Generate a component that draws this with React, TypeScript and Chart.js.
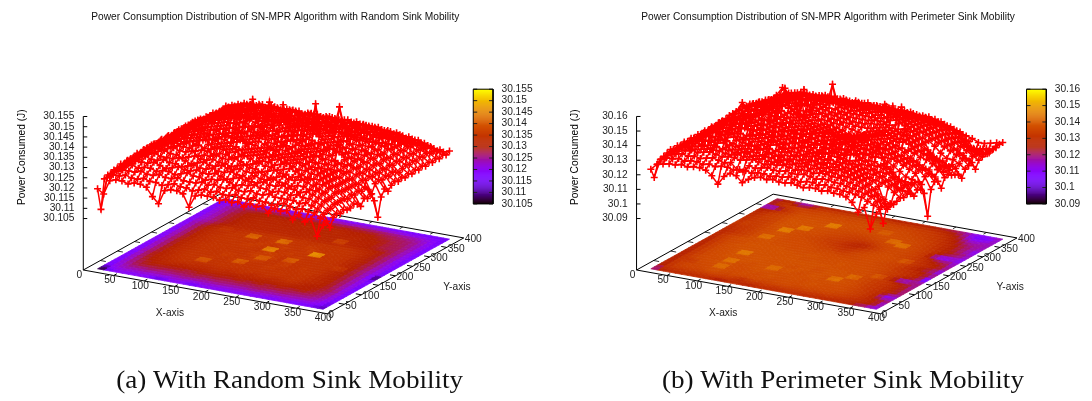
import React, { useEffect, useRef } from "react";
import { Chart, registerables } from "chart.js";

Chart.register(...registerables);

// Values are thousandths of a joule above 30.1 J, one row per Y grid line, one column per X grid line.
const gridCoords = [15,25,35,45,55,65,75,85,95,105,115,125,135,145,155,165,175,185,195,205,215,225,235,245,255,265,275,285,295,305,315,325,335,345,355,365,375,385];

const randomRows = [
[19,17,24,25,25,24,25,25,24,20,17,24,25,25,24,18,24,25,25,25,24,25,24,25,23,25,24,25,22,25,24,25,21,24,21,23,15,21],
[8,24,26,26,27,26,26,27,26,26,25,26,27,26,26,25,26,27,26,27,26,26,27,26,26,27,26,26,25,26,27,26,25,26,25,25,23,22],
[22,25,27,28,28,28,29,28,28,29,28,28,29,28,28,28,29,28,29,28,28,29,28,28,29,28,28,29,28,28,28,28,27,28,27,26,24,18],
[23,26,28,29,30,29,30,30,29,30,30,29,30,31,30,30,29,30,30,31,30,29,30,30,31,30,30,29,30,30,29,30,29,29,28,27,25,22],
[22,26,28,30,31,31,31,32,31,30,31,32,31,31,32,31,31,32,31,30,31,32,31,31,31,32,31,31,32,31,31,30,31,30,29,28,25,23],
[23,27,29,31,32,33,32,32,33,32,32,31,32,33,32,32,33,32,32,33,32,32,31,33,32,32,33,32,32,31,32,32,31,31,30,28,26,22],
[22,26,29,31,32,33,34,33,33,33,34,33,32,33,34,33,33,34,33,33,34,33,33,34,33,32,33,34,33,33,34,33,32,31,30,28,26,23],
[23,27,29,31,33,33,34,35,34,34,33,34,35,34,34,35,34,34,33,34,35,34,34,33,34,35,34,34,33,34,33,34,32,32,31,29,26,22],
[22,27,30,32,33,34,34,35,36,35,35,36,34,35,35,36,35,35,36,35,34,35,36,35,35,34,35,36,35,34,33,33,33,32,31,29,26,22],
[23,26,29,32,33,34,35,35,36,36,36,35,36,36,35,36,36,35,36,37,36,35,36,36,35,36,37,36,35,35,34,34,33,32,30,28,25,23],
[22,27,30,32,34,34,35,36,36,37,36,37,36,36,37,37,36,37,36,36,37,36,37,36,37,36,36,37,36,35,35,34,33,32,30,28,26,22],
[23,27,30,32,33,34,35,36,36,37,36,44,37,36,37,36,37,37,36,37,36,37,36,37,37,36,37,36,36,35,35,34,33,32,30,28,25,20],
[22,27,29,31,33,35,35,36,37,36,37,38,36,37,36,37,37,36,37,36,37,37,36,37,36,37,36,37,36,36,34,34,33,31,30,28,26,23],
[23,26,30,32,34,34,36,36,36,37,36,37,37,36,37,38,44,37,36,37,36,38,37,36,37,36,37,37,36,35,35,33,33,32,30,28,25,22],
[22,28,29,31,33,35,35,36,37,36,37,36,37,37,36,37,38,37,37,36,37,36,37,37,36,37,37,36,37,36,34,34,32,32,29,27,26,23],
[23,27,30,32,33,34,36,35,36,37,37,36,37,38,37,37,36,37,38,37,36,37,38,37,36,37,37,36,36,35,35,34,33,31,30,28,24,19],
[24,27,29,31,34,35,35,36,37,36,36,37,37,36,37,36,37,38,44,37,37,36,37,37,36,37,36,37,36,36,34,33,33,32,30,27,21,10],
[23,28,30,32,33,34,36,36,36,37,37,36,37,37,36,37,38,37,37,38,37,36,45,37,37,36,37,36,37,35,41,34,32,31,29,28,25,19],
[22,27,29,32,34,35,35,36,37,36,37,37,36,37,37,36,37,37,38,37,36,37,38,37,36,37,36,36,37,36,35,34,33,31,30,27,26,22],
[23,28,30,31,33,34,36,35,36,37,36,37,37,36,37,37,36,38,37,37,38,36,37,37,36,37,37,36,36,35,35,33,33,32,29,28,25,20],
[24,27,29,32,33,35,35,36,37,36,37,36,37,38,37,36,37,52,37,36,37,38,36,37,37,36,37,36,37,36,34,34,32,31,30,27,26,22],
[23,27,30,31,34,34,36,36,36,37,37,37,36,37,37,38,36,37,37,38,36,37,37,37,54,37,36,37,36,35,35,33,33,32,30,28,25,23],
[22,28,29,32,33,35,35,36,37,36,36,37,37,36,37,37,37,36,38,37,37,36,37,38,37,36,37,36,37,36,34,34,33,31,29,27,26,22],
[24,27,30,31,34,34,36,35,36,37,37,36,38,37,36,37,37,38,37,36,37,37,38,37,36,37,37,36,36,35,35,33,32,32,30,28,25,23],
[23,28,29,32,33,35,35,36,36,36,37,37,47,37,37,36,38,47,37,37,36,37,37,36,37,36,36,37,36,36,34,34,33,31,30,27,24,22],
[24,27,30,31,33,34,35,39,35,36,36,36,37,36,37,37,37,38,36,37,37,36,37,37,36,37,37,36,36,35,35,33,32,31,29,28,25,23],
[23,28,29,30,32,33,34,35,35,35,36,36,36,36,36,36,36,36,36,36,36,36,36,36,36,36,36,36,35,35,34,34,33,32,30,27,26,22],
[24,27,28,30,31,33,33,34,34,35,34,34,35,34,35,35,34,35,34,35,35,34,35,34,35,35,34,34,34,34,33,33,32,31,29,28,25,23],
[23,27,28,29,31,32,33,33,35,34,35,35,34,35,34,35,35,34,35,35,34,35,35,34,46,34,35,34,33,33,32,32,32,31,30,27,26,22],
[24,26,28,30,32,33,33,34,34,35,34,35,35,34,35,34,34,35,34,34,35,34,34,35,35,34,34,34,34,33,33,31,31,31,29,28,25,23],
[23,27,28,29,31,32,33,34,34,34,35,34,34,35,34,35,34,34,35,34,34,35,34,34,34,35,34,33,34,33,32,32,32,31,30,27,26,22],
[24,26,28,30,32,33,33,33,34,35,34,34,35,34,34,34,35,34,34,35,34,34,35,34,34,34,33,34,33,33,33,31,31,30,29,28,25,23],
[23,27,28,29,31,32,33,34,33,34,34,35,34,34,35,34,34,35,34,34,34,35,34,34,33,34,34,33,33,32,32,31,32,30,30,27,26,22],
[24,26,28,30,31,32,33,33,34,33,34,34,33,34,34,33,34,34,33,34,34,33,34,33,34,33,33,33,32,32,31,31,30,30,29,27,25,23],
[23,26,29,30,31,32,32,32,33,33,33,32,33,33,33,32,33,33,32,33,32,32,33,32,32,32,32,32,31,31,31,30,30,29,28,27,25,22],
[22,25,27,28,29,30,30,31,30,31,31,30,31,31,30,31,30,31,31,30,31,30,31,30,31,30,30,30,30,29,29,28,28,28,27,26,24,23],
[21,24,25,25,26,27,26,27,27,26,27,27,26,27,27,26,27,27,26,27,27,26,27,27,26,27,26,26,26,26,25,25,25,25,25,24,24,22],
[21,22,23,24,23,24,25,24,24,25,24,24,25,24,25,24,24,25,24,24,25,24,24,25,24,24,24,24,23,24,23,23,23,22,23,22,22,23],
];

const perimeterRows = [
[23,27,28,29,29,30,29,30,30,29,26,21,27,30,29,25,28,30,31,30,31,30,30,31,30,29,30,30,29,30,29,29,28,25,19,23,9,20],
[16,29,31,31,32,31,32,32,31,32,31,32,32,31,32,32,31,32,32,31,32,32,33,32,31,32,32,31,32,31,31,30,30,29,28,26,24,22],
[24,30,33,33,34,33,34,33,34,35,34,33,34,30,29,34,33,34,35,34,34,35,34,34,35,34,33,34,34,33,33,32,31,30,29,28,25,11],
[26,31,34,35,35,36,35,36,37,36,35,36,36,35,36,37,36,35,36,36,37,36,35,36,36,35,36,36,35,35,34,33,32,31,29,27,25,21],
[25,32,33,35,36,35,36,37,37,37,36,36,37,36,37,36,37,36,36,37,36,37,36,37,36,37,36,36,36,35,35,34,33,31,29,27,24,22],
[26,31,34,36,35,36,37,36,38,37,37,36,37,37,36,37,37,37,36,37,37,36,37,37,37,36,37,36,37,36,35,34,33,31,28,17,16,20],
[25,32,34,30,36,36,36,37,46,37,36,37,36,37,37,36,38,37,37,36,37,37,36,38,37,37,36,37,36,36,35,34,33,32,29,18,18,21],
[26,31,33,35,36,37,37,37,38,37,37,36,37,37,38,37,37,36,37,37,38,36,37,37,36,37,37,37,36,36,35,34,32,31,30,28,25,22],
[25,32,34,36,36,36,37,38,38,37,36,37,38,37,37,38,37,37,38,36,37,37,38,37,37,38,37,37,37,36,35,33,33,32,30,28,26,21],
[26,31,34,35,37,37,36,37,47,38,37,37,36,38,37,46,37,38,37,37,36,38,37,37,36,48,38,37,36,36,34,34,33,31,29,27,25,22],
[25,32,33,36,36,36,38,37,38,37,38,37,38,37,37,38,37,37,38,37,37,37,37,38,37,37,37,36,37,35,35,33,32,32,30,28,26,21],
[26,31,34,35,37,37,37,38,37,37,37,38,37,37,38,37,38,36,37,38,37,36,37,37,38,37,38,46,36,36,34,34,33,31,29,27,25,18],
[25,32,34,36,36,37,37,37,38,37,38,37,38,37,37,37,37,38,37,37,37,36,38,37,37,37,37,37,36,35,35,33,33,30,26,25,25,21],
[26,31,33,35,37,36,38,37,50,37,37,38,37,38,37,38,37,37,38,37,38,37,37,37,38,37,36,37,37,36,45,33,30,18,17,17,24,20],
[26,32,34,36,36,37,37,38,38,38,37,37,37,37,38,37,38,37,37,37,37,38,37,37,36,37,37,36,36,35,35,33,31,28,25,24,23,16],
[27,31,34,35,37,37,37,37,37,37,38,37,38,37,37,37,37,36,38,37,37,36,37,38,37,37,37,37,36,36,34,34,33,31,29,27,20,-1],
[26,32,33,36,36,37,38,37,38,37,37,37,37,38,37,38,37,37,37,36,37,37,37,37,36,37,36,36,36,35,35,33,32,31,30,28,24,16],
[27,31,34,36,36,36,37,38,37,38,37,38,37,37,37,36,37,38,37,37,36,37,36,37,37,36,37,36,36,36,34,33,32,31,29,27,25,20],
[28,32,34,35,37,37,37,37,37,37,37,37,37,36,37,37,36,37,36,36,37,36,37,36,36,37,36,36,35,35,34,32,31,30,28,26,23,19],
[28,32,34,36,36,37,37,37,38,37,37,37,36,37,36,37,36,36,36,37,35,36,35,36,36,37,36,36,36,35,35,33,30,28,25,24,20,13],
[29,30,32,33,34,36,38,37,37,37,36,37,37,36,37,36,36,35,36,34,34,35,36,36,37,36,37,36,36,35,34,33,32,30,29,27,24,19],
[29,31,32,34,35,35,37,47,38,37,37,36,36,37,36,36,35,35,34,33,33,34,35,36,36,37,36,37,36,36,46,33,32,31,29,28,25,20],
[29,31,32,34,34,36,37,37,37,37,37,36,37,36,36,35,35,34,33,32,31,33,34,35,36,36,37,36,36,35,34,33,31,29,27,26,24,18],
[30,32,33,33,34,36,37,37,38,37,36,37,36,36,35,35,34,33,32,31,30,31,33,34,35,36,36,36,35,35,34,33,31,29,26,25,22,17],
[30,33,33,34,35,35,37,37,38,37,37,36,36,35,36,34,34,33,32,30,29,28,30,33,35,36,36,36,36,35,34,32,29,25,19,20,22,16],
[30,37,33,34,34,36,37,37,52,37,37,36,37,36,35,35,34,34,33,32,31,30,33,34,35,36,36,36,35,35,34,32,22,15,14,16,18,12],
[30,32,34,34,35,36,37,38,37,37,37,37,36,37,36,35,35,34,34,33,33,33,34,35,36,36,36,37,36,35,33,32,29,25,22,22,20,17],
[31,32,33,34,34,36,38,37,37,38,50,37,37,36,36,36,35,35,34,34,34,35,35,36,36,37,50,36,35,35,34,32,30,28,26,24,22,18],
[30,32,34,34,35,36,37,37,38,37,38,37,37,37,36,36,36,35,35,35,35,36,36,36,48,37,36,36,35,34,33,31,30,28,26,24,21,19],
[30,31,33,35,34,36,37,38,37,37,37,38,37,37,37,36,36,36,36,36,36,36,37,36,37,36,36,36,35,34,33,31,29,27,24,21,18,13],
[29,31,33,34,35,36,37,37,37,38,37,37,37,52,37,37,36,37,36,37,36,37,36,37,36,36,36,35,35,34,32,31,29,27,25,23,20,18],
[28,29,32,34,34,35,37,37,37,37,37,37,37,38,37,37,37,36,37,36,37,43,37,36,36,36,35,35,34,33,32,30,28,26,24,22,20,19],
[26,27,28,31,33,35,36,37,36,37,37,37,36,37,37,36,37,37,36,37,36,36,36,36,36,35,35,34,33,33,31,29,27,25,23,22,21,20],
[18,14,16,28,32,34,36,36,36,36,36,36,37,36,36,37,36,36,37,36,36,36,36,36,35,35,34,34,33,32,30,28,26,22,20,20,21,19],
[24,27,29,33,34,35,35,35,35,36,36,35,36,36,35,36,36,35,36,35,36,35,35,35,35,34,34,33,32,31,29,27,24,19,18,19,20,20],
[25,29,35,32,33,34,34,34,34,35,35,34,35,34,35,34,35,34,34,35,34,34,34,34,33,33,33,32,31,29,27,25,21,15,14,14,17,20],
[24,28,30,29,17,16,18,31,32,31,32,32,32,31,32,31,31,32,32,31,31,31,31,30,30,30,29,29,28,27,25,23,19,13,12,13,17,21],
[23,25,27,26,26,27,27,27,27,28,27,28,27,28,27,27,28,27,27,27,27,27,26,27,26,26,25,25,24,24,23,21,20,18,18,19,20,21],
];

const xTicks = [0,50,100,150,200,250,300,350,400];
const yTicks = [0,50,100,150,200,250,300,350,400];
const randomZTicks = ["30.105","30.11","30.115","30.12","30.125","30.13","30.135","30.14","30.145","30.15","30.155"];
const perimeterZTicks = ["30.09","30.1","30.11","30.12","30.13","30.14","30.15","30.16"];

const titles = [
  "Power Consumption Distribution of SN-MPR Algorithm with Random Sink Mobility",
  "Power Consumption Distribution of SN-MPR Algorithm with Perimeter Sink Mobility",
];
const captions = ["(a) With Random Sink Mobility", "(b) With Perimeter Sink Mobility"];

const panels = [
  { rows: randomRows, ticks: randomZTicks, ox: 78.5, zScale: 2100, zBase: 30.0798, title: titles[0], caption: captions[0], titleX: 272.5, captionX: 287, cbX: 472.5, labelX: 17, floorPivot: 37, floorTo: 35, floorLow: 1.35, floorHigh: 2.5 },
  { rows: perimeterRows, ticks: perimeterZTicks, ox: 637.5, zScale: 1500, zBase: 30.0547, title: titles[1], caption: captions[1], titleX: 831, captionX: 846, cbX: 1031.5, labelX: 576, floorPivot: 37, floorTo: 37, floorLow: 1.25, floorHigh: 2 },
];

const palette = (t: number) => {
  const g = Math.min(1, Math.max(0, t));
  const r = Math.round(255 * Math.sqrt(g));
  const gr = Math.round(255 * g * g * g);
  const b = Math.round(255 * Math.max(0, Math.sin(2 * Math.PI * g)));
  return `rgb(${r},${gr},${b})`;
};

type Panel = (typeof panels)[number];
const proj = (p: Panel, X: number, Y: number, z?: number) => ({
  x: p.ox + 0.616 * X + 0.345 * Y,
  y: 272 + 0.1125 * X - 0.195 * Y - (z === undefined ? 0 : (z - p.zBase) * p.zScale),
});
const zOf = (v: number) => 30.1 + v / 1000;

const lineSet = (data: any[], color: string, width: number, order: number) => ({
  type: "scatter", data, showLine: true, borderColor: color, backgroundColor: color,
  borderWidth: width, pointRadius: 0, order, clip: false,
});

function buildDatasets() {
  const out: any[] = [];
  for (const p of panels) {
    const zs = p.ticks.map(Number);
    const zMin = zs[0];
    const zMax = zs[zs.length - 1];
    const tOf = (z: number) => (z - zMin) / (zMax - zMin);

    // floor: one quad for each grid cell, coloured by the mean of its corners
    for (let j = 0; j < gridCoords.length - 1; j++) {
      for (let i = 0; i < gridCoords.length - 1; i++) {
        const m = (p.rows[j][i] + p.rows[j][i + 1] + p.rows[j + 1][i] + p.rows[j + 1][i + 1]) / 4;
        const shade = p.floorTo + (m - p.floorPivot) * (m > p.floorPivot ? p.floorHigh : p.floorLow);
        const c = palette(tOf(zOf(shade)));
        const [x0, x1, y0, y1] = [gridCoords[i], gridCoords[i + 1], gridCoords[j], gridCoords[j + 1]];
        out.push({
          ...lineSet([proj(p, x0, y0), proj(p, x1, y0), proj(p, x1, y1), proj(p, x0, y1), proj(p, x0, y0)], c, 0.8, 5),
          fill: "shape",
        });
      }
    }

    // box edges and ticks
    const box = [[0, 0, 400, 0], [400, 0, 400, 400], [400, 400, 0, 400], [0, 400, 0, 0]];
    for (const [a, b, c, d] of box) out.push(lineSet([proj(p, a, b), proj(p, c, d)], "#000", 1, 3));
    for (const t of xTicks.slice(1, -1)) {
      out.push(lineSet([proj(p, t, 0), proj(p, t, 9)], "#000", 1, 3));
      out.push(lineSet([proj(p, t, 400), proj(p, t, 391)], "#333", 1, 3));
    }
    for (const t of yTicks.slice(1, -1)) {
      out.push(lineSet([proj(p, 400, t), proj(p, 391, t)], "#000", 1, 3));
      out.push(lineSet([proj(p, 0, t), proj(p, 9, t)], "#333", 1, 3));
    }
    out.push(lineSet([proj(p, 0, 0), proj(p, 0, 0, zMax)], "#000", 1, 3));
    for (const z of zs) {
      const a = proj(p, 0, 0, z);
      out.push(lineSet([a, { x: a.x + 4, y: a.y }], "#000", 1, 3));
    }

    // colour box: one short run per pixel row
    const cbTop = 86;
    const cbBottom = 204;
    const r = { l: p.cbX, r: p.cbX + 20 };
    for (let y = cbTop; y < cbBottom; y++) {
      const c = palette((cbBottom - y - 0.5) / (cbBottom - cbTop));
      out.push({ ...lineSet([{ x: r.l, y: y + 0.5 }, { x: r.r, y: y + 0.5 }], c, 1.3, 4), borderCapStyle: "butt" });
    }
    out.push(lineSet([{ x: r.l, y: cbTop }, { x: r.r, y: cbTop }, { x: r.r, y: cbBottom }, { x: r.l, y: cbBottom }, { x: r.l, y: cbTop }], "#000", 1, 2));
    zs.forEach((z) => {
      const y = cbBottom - tOf(z) * (cbBottom - cbTop);
      out.push(lineSet([{ x: r.l, y }, { x: r.l + 4, y }], "#222", 1, 2));
      out.push(lineSet([{ x: r.r - 4, y }, { x: r.r, y }], "#222", 1, 2));
    });

    // mesh: rows carry the cross markers, columns only the line
    p.rows.forEach((row, j) => {
      out.push({
        ...lineSet(row.map((v, i) => proj(p, gridCoords[i], gridCoords[j], zOf(v))), "#ff0000", 1.5, 1),
        pointStyle: "cross", pointRadius: 3.5, pointBorderWidth: 1.6, pointBorderColor: "#ff0000",
      });
    });
    gridCoords.forEach((_, i) => {
      out.push(lineSet(p.rows.map((row, j) => proj(p, gridCoords[i], gridCoords[j], zOf(row[i]))), "#ff0000", 1.5, 1));
    });
  }
  return out;
}

const textPlugin = {
  id: "labels3d",
  afterDraw(chart: any) {
    const { ctx, scales } = chart;
    const sx = (v: number) => scales.x.getPixelForValue(v);
    const sy = (v: number) => scales.y.getPixelForValue(v);
    const put = (s: string, x: number, y: number, font: string, align: CanvasTextAlign, color: string, rot = 0) => {
      ctx.save();
      ctx.font = font;
      ctx.fillStyle = color;
      ctx.textAlign = align;
      ctx.textBaseline = "middle";
      ctx.translate(sx(x), sy(y));
      if (rot) ctx.rotate(rot);
      ctx.fillText(s, 0, 0);
      ctx.restore();
    };
    const sans = '10.2px "Liberation Sans"';
    for (const p of panels) {
      put(p.title, p.titleX, 11.5, sans, "center", "#111");
      ctx.save();
      ctx.font = '25px "Liberation Serif"';
      ctx.fillStyle = "#111";
      ctx.textAlign = "center";
      ctx.textBaseline = "alphabetic";
      ctx.translate(sx(p.captionX), sy(393));
      ctx.scale(1.085, 1);
      ctx.fillText(p.caption, 0, 0);
      ctx.restore();
      for (const t of xTicks) {
        const a = proj(p, t, 0);
        put(String(t), a.x - 4, a.y + 5, sans, "center", "#222");
      }
      for (const t of yTicks) {
        const a = proj(p, 400, t);
        put(String(t), a.x + 1, a.y + 1.5, sans, "left", "#222");
      }
      const zs = p.ticks.map(Number);
      p.ticks.forEach((s, k) => {
        const a = proj(p, 0, 0, zs[k]);
        put(s, a.x - 9, a.y, sans, "right", "#222");
        put(s, p.cbX + 28.5, 204 - (k / (p.ticks.length - 1)) * 118, sans, "left", "#222");
      });
      put("Power Consumed (J)", p.labelX, 156, sans, "center", "#000", -Math.PI / 2);
      put("X-axis", p.ox + 87.5, 316, sans, "center", "#222");
      put("Y-axis", p.ox + 377.5, 290, sans, "center", "#222");
    }
  },
};

export default function App() {
  const ref = useRef<HTMLCanvasElement>(null);
  useEffect(() => {
    const chart = new Chart(ref.current as HTMLCanvasElement, {
      type: "scatter",
      data: { datasets: buildDatasets() },
      options: {
        animation: false,
        responsive: false,
        events: [],
        layout: { padding: 0 },
        plugins: { legend: { display: false }, tooltip: { enabled: false }, title: { display: false } },
        scales: {
          x: { type: "linear", display: false, min: 0, max: 1092 },
          y: { type: "linear", display: false, min: 0, max: 401, reverse: true },
        },
      },
      plugins: [textPlugin],
    } as any);
    return () => chart.destroy();
  }, []);
  return (
    <div style={{ position: "absolute", left: 0, top: 0, width: 1092, height: 401, background: "#fff" }}>
      <canvas ref={ref} width={1092} height={401} style={{ display: "block", filter: "blur(0.35px)" }} />
    </div>
  );
}
